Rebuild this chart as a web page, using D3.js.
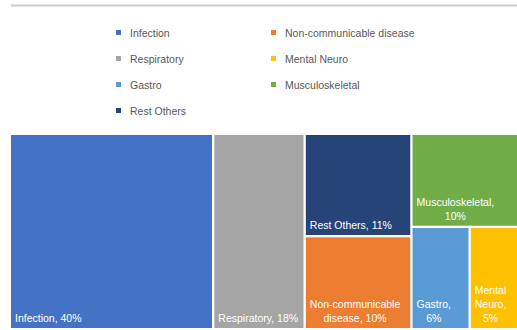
<!DOCTYPE html>
<html>
<head>
<meta charset="utf-8">
<script src="https://cdnjs.cloudflare.com/ajax/libs/d3/7.8.5/d3.min.js"></script>
<style>
  body { margin: 0; background: #fff; }
  svg { font-family: "Liberation Sans", Arial, sans-serif; }
  .legend text { fill: #595959; font-size: 10.5px; }
  .tile text { fill: #fff; font-size: 10.5px; }
</style>
</head>
<body>
<svg id="chart" width="517" height="330"></svg>
<script>
// categories in the order the chart shows them
const categories = ["Infection", "Respiratory", "Rest Others", "Non-communicable disease",
                    "Musculoskeletal", "Gastro", "Mental Neuro"];
const shares = [40, 18, 11, 10, 10, 6, 5];
const colors = ["#4472C4", "#A5A5A5", "#264478", "#ED7D31", "#70AD47", "#5B9BD5", "#FFC000"];
// legend order (two columns)
const legendCol1 = ["Infection", "Respiratory", "Gastro", "Rest Others"];
const legendCol2 = ["Non-communicable disease", "Mental Neuro", "Musculoskeletal"];
// how the tiles are stacked into columns (indices into categories)
const columns = [[0], [1], [2, 3], [4, [5, 6]]];

const colorOf = d3.scaleOrdinal().domain(categories).range(colors);
const svg = d3.select("#chart");

// thin rule at the top
svg.append("line")
  .attr("x1", 11).attr("x2", 517).attr("y1", 5.5).attr("y2", 5.5)
  .attr("stroke", "#cccccc").attr("stroke-width", 2);

// legend
const legend = svg.append("g").attr("class", "legend");
function legendColumn(items, x) {
  const g = legend.selectAll(null).data(items).enter().append("g")
    .attr("transform", (d, i) => `translate(${x},${30 + i * 26})`);
  g.append("rect").attr("width", 5).attr("height", 5).attr("fill", d => colorOf(d));
  g.append("text").attr("x", 14).attr("y", 6.5).text(d => d);
}
legendColumn(legendCol1, 116);
legendColumn(legendCol2, 271);

// build hierarchy from the column grouping
function node(entry) {
  if (Array.isArray(entry)) return { children: entry.map(node) };
  return { name: categories[entry], value: shares[entry] };
}
const root = d3.hierarchy({ children: columns.map(node) })
  .sum(d => d.value || 0);

d3.treemap()
  .tile(d3.treemapSliceDice)
  .size([506, 193])
  .paddingInner(2.3)
  .round(false)(root);

const area = svg.append("g").attr("transform", "translate(11,135)");
const tiles = area.selectAll("g.tile").data(root.leaves()).enter().append("g")
  .attr("class", "tile")
  .attr("transform", d => `translate(${d.x0},${d.y0})`);

tiles.append("rect")
  .attr("width", d => d.x1 - d.x0)
  .attr("height", d => d.y1 - d.y0)
  .attr("fill", d => colorOf(d.data.name));

// labels: wrapped, block anchored bottom-left, lines centred in the block
const lineH = 14;
tiles.each(function (d) {
  const g = d3.select(this);
  const w = d.x1 - d.x0, h = d.y1 - d.y0;
  const label = `${d.data.name}, ${d.data.value}%`;
  const words = label.split(" ");
  const t = g.append("text");
  const maxW = w - 6;
  let lines = [], cur = "";
  words.forEach(word => {
    const test = cur ? cur + " " + word : word;
    t.text(test);
    if (cur && t.node().getComputedTextLength() > maxW) {
      lines.push(cur);
      cur = word;
    } else cur = test;
  });
  lines.push(cur);
  const widths = lines.map(l => { t.text(l); return t.node().getComputedTextLength(); });
  t.text(null);
  const blockW = d3.max(widths);
  const cx = 4 + blockW / 2;
  const lastY = h - 6;
  t.attr("text-anchor", lines.length > 1 ? "middle" : "start");
  lines.forEach((l, i) => {
    t.append("tspan")
      .attr("x", lines.length > 1 ? cx : 4)
      .attr("y", lastY - (lines.length - 1 - i) * lineH)
      .text(l);
  });
});
</script>
</body>
</html>
